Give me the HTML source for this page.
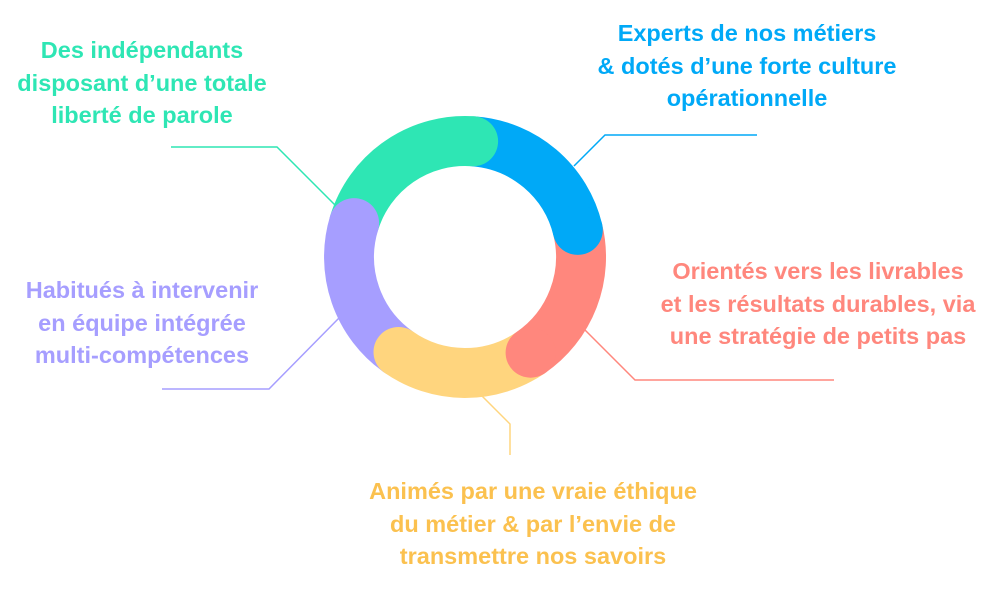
<!DOCTYPE html>
<html><head><meta charset="utf-8"><style>
html,body{margin:0;padding:0;background:#fff;}
body{width:1000px;height:600px;position:relative;overflow:hidden;font-family:"Liberation Sans",sans-serif;}
.t{position:absolute;text-align:center;font-weight:bold;font-size:23.5px;line-height:32.5px;white-space:nowrap;transform:translateX(-50%);}
</style></head><body>
<svg width="1000" height="600" style="position:absolute;left:0;top:0">
<g fill="none" stroke-width="1.5">
<polyline points="171,147 277,147 336,206" stroke="#2ee6b4"/>
<polyline points="162,389 269,389 339,318" stroke="#a69eff"/>
<polyline points="757,135 605,135 574,166" stroke="#00a9f7"/>
<polyline points="834,380 635,380 585,330" stroke="#ff877d"/>
<polyline points="510,455 510,424 482,396" stroke="#ffd57e"/>
</g>
<g fill="none" stroke-width="50" stroke-linecap="butt" transform="translate(465,257)">
<path d="M -110.9 -33.9 A 116 116 0 0 1 8.1 -115.7" stroke="#2ee6b4"/>
<path d="M 8.1 -115.7 A 116 116 0 0 1 112.8 -27.1" stroke="#00a9f7"/>
<path d="M 112.8 -27.1 A 116 116 0 0 1 65.6 95.7" stroke="#ff877d"/>
<path d="M 65.6 95.7 A 116 116 0 0 1 -66.5 95.0" stroke="#ffd57e"/>
<path d="M -66.5 95.0 A 116 116 0 0 1 -110.9 -33.9" stroke="#a69eff"/>
<circle cx="8.1" cy="-115.7" r="25" fill="#2ee6b4" stroke="none"/>
<circle cx="112.8" cy="-27.1" r="25" fill="#00a9f7" stroke="none"/>
<circle cx="65.6" cy="95.7" r="25" fill="#ff877d" stroke="none"/>
<circle cx="-66.5" cy="95.0" r="25" fill="#ffd57e" stroke="none"/>
<circle cx="-110.9" cy="-33.9" r="25" fill="#a69eff" stroke="none"/>
</g>
</svg>
<div class="t" style="left:142px;top:34px;color:#2ee6b4">Des indépendants<br>disposant d’une totale<br>liberté de parole</div>
<div class="t" style="left:747px;top:17px;color:#00a9f7">Experts de nos métiers<br>&amp; dotés d’une forte culture<br>opérationnelle</div>
<div class="t" style="left:818px;top:255px;color:#ff877d">Orientés vers les livrables<br>et les résultats durables, via<br>une stratégie de petits pas</div>
<div class="t" style="left:142px;top:274px;color:#a69eff">Habitués à intervenir<br>en équipe intégrée<br>multi-compétences</div>
<div class="t" style="left:533px;top:475px;color:#fbc14f">Animés par une vraie éthique<br>du métier &amp; par l’envie de<br>transmettre nos savoirs</div>
</body></html>
